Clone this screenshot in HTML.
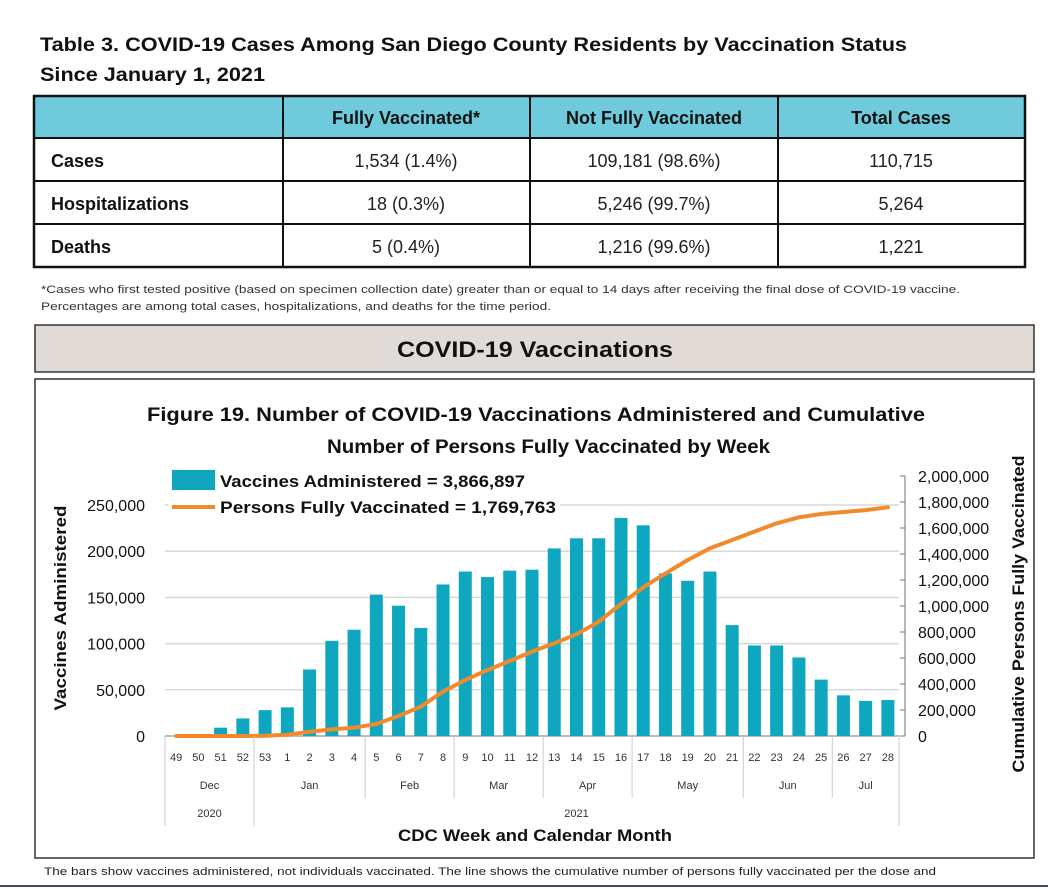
<!DOCTYPE html>
<html><head><meta charset="utf-8">
<style>
html,body{margin:0;padding:0;background:#fff;}
svg{display:block;font-family:"Liberation Sans",sans-serif;}
</style></head>
<body>
<svg id="root" width="1048" height="889" viewBox="0 0 1048 889" xmlns="http://www.w3.org/2000/svg">
  <g font-weight="bold" font-size="19" fill="#111">
    <text x="40" y="51" textLength="867" lengthAdjust="spacingAndGlyphs">Table 3. COVID-19 Cases Among San Diego County Residents by Vaccination Status</text>
    <text x="40" y="81" textLength="225" lengthAdjust="spacingAndGlyphs">Since January 1, 2021</text>
  </g>
  <g>
    <rect x="34" y="96" width="991" height="42" fill="#6fcbdc"/>
    <rect x="34" y="96" width="991" height="171" fill="none" stroke="#111" stroke-width="2.5"/>
    <g stroke="#111" stroke-width="2">
      <line x1="34" y1="138" x2="1025" y2="138"/>
      <line x1="34" y1="181" x2="1025" y2="181"/>
      <line x1="34" y1="224" x2="1025" y2="224"/>
      <line x1="283" y1="96" x2="283" y2="267"/>
      <line x1="530" y1="96" x2="530" y2="267"/>
      <line x1="778" y1="96" x2="778" y2="267"/>
    </g>
    <g font-size="18" font-weight="bold" fill="#111" text-anchor="middle">
      <text x="406" y="124">Fully Vaccinated*</text>
      <text x="654" y="124">Not Fully Vaccinated</text>
      <text x="901" y="124">Total Cases</text>
    </g>
    <g font-size="18" font-weight="bold" fill="#111">
      <text x="51" y="167">Cases</text>
      <text x="51" y="210">Hospitalizations</text>
      <text x="51" y="253">Deaths</text>
    </g>
    <g font-size="18" fill="#222" text-anchor="middle">
      <text x="406" y="167">1,534 (1.4%)</text><text x="654" y="167">109,181 (98.6%)</text><text x="901" y="167">110,715</text>
      <text x="406" y="210">18 (0.3%)</text><text x="654" y="210">5,246 (99.7%)</text><text x="901" y="210">5,264</text>
      <text x="406" y="253">5 (0.4%)</text><text x="654" y="253">1,216 (99.6%)</text><text x="901" y="253">1,221</text>
    </g>
  </g>
  <g font-size="11" fill="#333">
    <text x="41" y="293" textLength="919" lengthAdjust="spacingAndGlyphs">*Cases who first tested positive (based on specimen collection date) greater than or equal to 14 days after receiving the final dose of COVID-19 vaccine.</text>
    <text x="41" y="310" textLength="510" lengthAdjust="spacingAndGlyphs">Percentages are among total cases, hospitalizations, and deaths for the time period.</text>
  </g>
  <g>
    <rect x="35" y="325" width="999" height="47" fill="#e1dbd7" stroke="#333" stroke-width="1.5"/>
    <text x="397" y="357" font-size="22" font-weight="bold" fill="#111" textLength="276" lengthAdjust="spacingAndGlyphs">COVID-19 Vaccinations</text>
  </g>
  <rect x="35" y="379" width="999" height="479" fill="#fff" stroke="#333" stroke-width="1.5"/>
  <g font-size="19" font-weight="bold" fill="#111">
    <text x="147" y="421" textLength="778" lengthAdjust="spacingAndGlyphs">Figure 19. Number of COVID-19 Vaccinations Administered and Cumulative</text>
    <text x="327" y="453" textLength="443" lengthAdjust="spacingAndGlyphs">Number of Persons Fully Vaccinated by Week</text>
  </g>
  <g id="grid"></g>
  <g>
    <rect x="168" y="466" width="392" height="52" fill="#fff"/>
    <rect x="172" y="470" width="43" height="20" fill="#0fa7c0"/>
    <text x="220" y="487" font-size="17" font-weight="bold" fill="#111" textLength="305" lengthAdjust="spacingAndGlyphs">Vaccines Administered = 3,866,897</text>
    <line x1="172" y1="507" x2="215" y2="507" stroke="#f08a2c" stroke-width="4"/>
    <text x="220" y="513" font-size="17" font-weight="bold" fill="#111" textLength="336" lengthAdjust="spacingAndGlyphs">Persons Fully Vaccinated = 1,769,763</text>
  </g>
  <g id="bars"></g>
  <g id="line"></g>
  <g id="axes"></g>
  <text x="0" y="0" transform="translate(66,608) rotate(-90)" text-anchor="middle" font-size="17" font-weight="bold" fill="#111" textLength="205" lengthAdjust="spacingAndGlyphs">Vaccines Administered</text>
  <text x="0" y="0" transform="translate(1024,614) rotate(-90)" text-anchor="middle" font-size="17" font-weight="bold" fill="#111" textLength="317" lengthAdjust="spacingAndGlyphs">Cumulative Persons Fully Vaccinated</text>
  <text x="398" y="841" font-size="17" font-weight="bold" fill="#111" textLength="274" lengthAdjust="spacingAndGlyphs">CDC Week and Calendar Month</text>
  <text x="44" y="875" font-size="11" fill="#222" textLength="892" lengthAdjust="spacingAndGlyphs">The bars show vaccines administered, not individuals vaccinated. The line shows the cumulative number of persons fully vaccinated per the dose and</text>
  <line x1="0" y1="886" x2="1048" y2="886" stroke="#3a4a6a" stroke-width="2"/>
</svg>
<script>
const weeks = ["49","50","51","52","53","1","2","3","4","5","6","7","8","9","10","11","12","13","14","15","16","17","18","19","20","21","22","23","24","25","26","27","28"];
const vaccines = [0,0,9000,19000,28000,31000,72000,103000,115000,153000,141000,117000,164000,178000,172000,179000,180000,203000,214000,214000,236000,228000,176000,168000,178000,120000,98000,98000,85000,61000,44000,38000,39000];
const persons = [0,0,0,0,2000,10000,33000,51000,64000,92000,154000,226000,341000,431000,508000,577000,649000,713000,782000,879000,1015000,1144000,1251000,1354000,1444000,1508000,1572000,1636000,1682000,1708000,1723000,1738000,1759000];
const leftTicks = [0,50000,100000,150000,200000,250000];
const rightTicks = [0,200000,400000,600000,800000,1000000,1200000,1400000,1600000,1800000,2000000];
const months = ["Dec","Jan","Feb","Mar","Apr","May","Jun","Jul"];
const monthStarts = [0,4,9,13,17,21,26,30];
const years = ["2020","2021"];
const yearStarts = [0,4];

const NS="http://www.w3.org/2000/svg";
const X0=165, X1=899, Y0=736, YL=505, YR=476;
const step=(X1-X0)/weeks.length;
const xC=i=>X0+step*(i+0.5);
const xEdge=i=>X0+step*i;
const yL=v=>Y0-(v/250000)*(Y0-YL);
const yR=v=>Y0-(v/2000000)*(Y0-YR);
function mk(tag,attrs,parent,txt){const e=document.createElementNS(NS,tag);for(const k in attrs)e.setAttribute(k,attrs[k]);if(txt!==undefined)e.textContent=txt;parent.appendChild(e);return e;}
const fmt=v=>v.toLocaleString('en-US');

const grid=document.getElementById('grid');
leftTicks.forEach((t,i)=>{
  const l=mk('line',{x1:X0,x2:X1,y1:yL(t),y2:yL(t),stroke:i===0?'#bbb':'#d9d9d9','stroke-width':i===0?2:1.5},grid);
  
  
  const tx=mk('text',{x:145,y:yL(t)+6,'text-anchor':'end','font-size':16,fill:'#111'},grid,fmt(t));
  
  
});

const bars=document.getElementById('bars');
vaccines.forEach((v,i)=>{
  const w=13;
  const r=mk('rect',{x:xC(i)-w/2,y:yL(v),width:w,height:Y0-yL(v),fill:'#0fa7c0'},bars);
  
  
});

const lg=document.getElementById('line');
const pts=persons.map((v,i)=>xC(i).toFixed(1)+','+yR(v).toFixed(1)).join(' ');
const pl=mk('polyline',{points:pts,fill:'none',stroke:'#f08a2c','stroke-width':4,'stroke-linejoin':'round','stroke-linecap':'round'},lg);



const ax=document.getElementById('axes');
const ra=mk('line',{x1:905,x2:905,y1:yR(2000000),y2:Y0,stroke:'#888','stroke-width':1.2},ax);


rightTicks.forEach(t=>{
  mk('line',{x1:900,x2:905,y1:yR(t),y2:yR(t),stroke:'#888','stroke-width':1.2},ax);
  const tx=mk('text',{x:918,y:yR(t)+6,'font-size':16,fill:'#111'},ax,fmt(t));
  
  
});
weeks.forEach((w,i)=>{
  const tx=mk('text',{x:xC(i),y:761,'text-anchor':'middle','font-size':11,fill:'#333'},ax,w);
  
  
});
monthStarts.forEach((s,k)=>{
  const e=k<monthStarts.length-1?monthStarts[k+1]:weeks.length;
  if(k>0) mk('line',{x1:xEdge(s),x2:xEdge(s),y1:Y0,y2:yearStarts.includes(s)?826:798,stroke:'#ccc','stroke-width':1},ax);
  const tx=mk('text',{x:(xEdge(s)+xEdge(e))/2,y:789,'text-anchor':'middle','font-size':11,fill:'#333'},ax,months[k]);
  
  
});
mk('line',{x1:X0,x2:X0,y1:Y0,y2:826,stroke:'#ccc','stroke-width':1},ax);
mk('line',{x1:X1,x2:X1,y1:Y0,y2:826,stroke:'#ccc','stroke-width':1},ax);
yearStarts.forEach((s,k)=>{
  const e=k<yearStarts.length-1?yearStarts[k+1]:weeks.length;
  const tx=mk('text',{x:(xEdge(s)+xEdge(e))/2,y:817,'text-anchor':'middle','font-size':11,fill:'#333'},ax,years[k]);
  
  
});
</script>
</body></html>
